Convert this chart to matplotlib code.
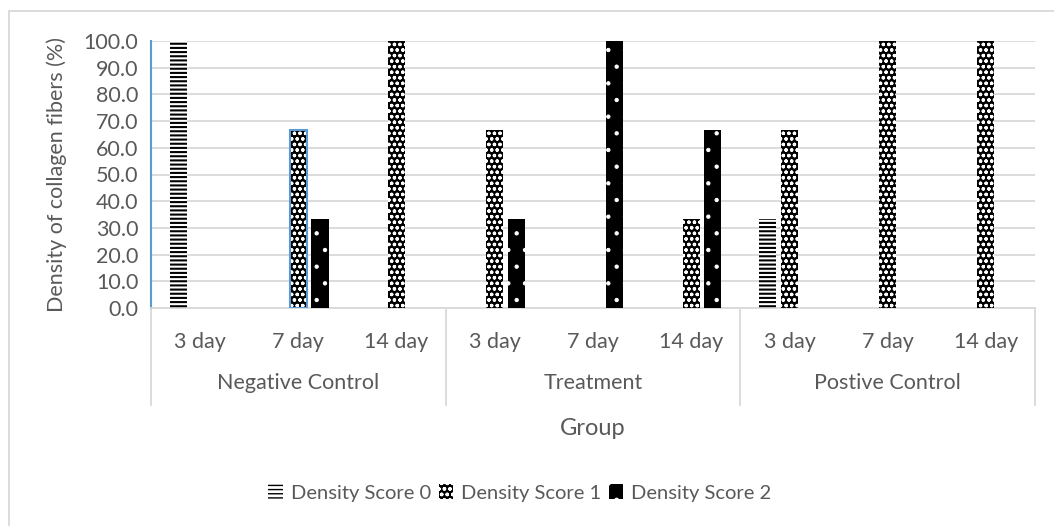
import numpy as np
import matplotlib
matplotlib.use("Agg")
import matplotlib.pyplot as plt
import matplotlib.transforms as mtransforms
from matplotlib.patches import Patch
from matplotlib.lines import Line2D

plt.rcParams["font.family"] = ["Lato", "DejaVu Sans"]

groups = ["Negative Control", "Treatment", "Postive Control"]
days = ["3 day", "7 day", "14 day"]
series = ["Density Score 0", "Density Score 1", "Density Score 2"]

# one value per (group, day) slot, 9 slots in order
score0 = [100.0, 0, 0, 0, 0, 0, 33.3, 0, 0]
score1 = [0, 66.7, 100.0, 66.7, 0, 33.3, 66.7, 100.0, 100.0]
score2 = [0, 33.3, 0, 33.3, 100.0, 66.7, 0, 0, 0]

text_c = "#595959"
grid_c = "#D9D9D9"

fig = plt.figure(figsize=(10.54, 5.26), dpi=100)
ax = fig.add_axes([151 / 1054, 218 / 526, 884 / 1054, 267 / 526])

x = np.arange(len(score0))
w = 0.175
off = 0.22
styles = [
    dict(facecolor="white", edgecolor="black", hatch="----"),
    dict(facecolor="black", edgecolor="white", hatch="ooo"),
    dict(facecolor="black", edgecolor="white", hatch="."),
]
hatch_lw = [1.5, 0.9, 0.7]

handles = []
for k, vals in enumerate([score0, score1, score2]):
    # hatch width is picked up when each patch is created
    with plt.rc_context({"hatch.linewidth": hatch_lw[k]}):
        ax.bar(x + (k - 1) * off, vals, w, linewidth=0, zorder=3, **styles[k])
        handles.append(Patch(linewidth=0, **styles[k]))

# highlighted outline on the negative-control 7 day score 1 bar
ax.bar(x[1], score1[1], w, fill=False, edgecolor="#5B9BD5", linewidth=1.5, zorder=4)

ax.set_xlim(-0.5, len(x) - 0.5)
ax.set_ylim(0, 100)
ax.set_yticks(np.arange(0, 101, 10))
ax.set_yticklabels([f"{v:.1f}" for v in np.arange(0, 101, 10)])
ax.tick_params(axis="y", length=0, labelsize=15.5, labelcolor=text_c, pad=9)
ax.set_xticks([])
ax.yaxis.grid(True, color=grid_c, linewidth=1.3)
ax.set_axisbelow(True)
for s in ["top", "right"]:
    ax.spines[s].set_visible(False)
ax.spines["bottom"].set_color(grid_c)
ax.spines["bottom"].set_linewidth(1.3)
ax.spines["left"].set_color("#5B9BD5")
ax.spines["left"].set_linewidth(1.5)

ax.set_ylabel("Density of collagen fibers (%)", fontsize=15.5, color=text_c, labelpad=12)

# two-level category axis
trans = mtransforms.blended_transform_factory(ax.transData, ax.transAxes)
for i in x:
    ax.text(i, -0.127, days[i % 3], transform=trans, ha="center", va="center",
            fontsize=15.5, color=text_c)
for g, name in enumerate(groups):
    ax.text(g * 3 + 1, -0.281, name, transform=trans, ha="center", va="center",
            fontsize=15.5, color=text_c)
for b in [-0.5, 2.5, 5.5, 8.5]:
    ax.add_line(Line2D([b, b], [0, -0.363], transform=trans, color=grid_c,
                       linewidth=1.3, clip_on=False))
ax.text(4, -0.45, "Group", transform=trans, ha="center", va="center",
        fontsize=17, color=text_c)

fig.legend(handles, series, loc="center", bbox_to_anchor=(520 / 1054, 1 - 493 / 526),
           ncol=3, frameon=False, fontsize=14.5, handlelength=0.7, handleheight=0.7,
           handletextpad=0.4, columnspacing=0.4, labelcolor=text_c)

# chart frame
fig.add_artist(Line2D([9 / 1054, 1], [1 - 11 / 526] * 2, transform=fig.transFigure,
                      color=grid_c, linewidth=1.3))
fig.add_artist(Line2D([9 / 1054] * 2, [0, 1 - 11 / 526], transform=fig.transFigure,
                      color=grid_c, linewidth=1.3))

fig.savefig("out.png", dpi=100, facecolor="white")
